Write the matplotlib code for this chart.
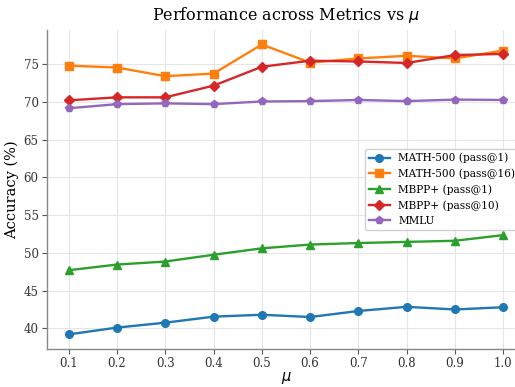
import matplotlib
matplotlib.use("Agg")
import matplotlib.pyplot as plt

# ---------- Datos ----------
mu = [0.1, 0.2, 0.3, 0.4, 0.5, 0.6, 0.7, 0.8, 0.9, 1.0]
math_p1 = [39.2, 40.1, 40.75, 41.55, 41.8, 41.5, 42.3, 42.85, 42.5, 42.8]
math_p16 = [74.8, 74.55, 73.4, 73.75, 77.6, 75.2, 75.75, 76.1, 75.75, 76.8]
mbpp_p1 = [47.7, 48.45, 48.85, 49.75, 50.6, 51.1, 51.3, 51.45, 51.6, 52.35]
mbpp_p10 = [70.2, 70.6, 70.6, 72.15, 74.65, 75.45, 75.35, 75.15, 76.2, 76.35]
mmlu = [69.15, 69.7, 69.8, 69.7, 70.05, 70.1, 70.25, 70.1, 70.3, 70.25]

series = [
    ("MATH-500 (pass@1)", math_p1, "o", "#1f77b4"),
    ("MATH-500 (pass@16)", math_p16, "s", "#ff7f0e"),
    ("MBPP+ (pass@1)", mbpp_p1, "^", "#2ca02c"),
    ("MBPP+ (pass@10)", mbpp_p10, "D", "#d62728"),
    ("MMLU", mmlu, "p", "#9467bd"),
]

plt.rcParams["font.family"] = "DejaVu Serif"

fig = plt.figure(figsize=(5.15, 3.87), dpi=100)
ax = fig.add_axes([0.0913, 0.0985, 0.928, 0.824])

for label, vals, mk, col in series:
    ax.plot(mu, vals, marker=mk, color=col, label=label, linewidth=1.7, markersize=5.5)

ax.set_xticks(mu)
ax.set_xticklabels([f"{v:.1f}" for v in mu])
ax.set_yticks([40, 45, 50, 55, 60, 65, 70, 75])

ax.grid(True, color="#e6e6e6", linewidth=0.8)
ax.set_axisbelow(True)
for s in ["top", "right"]:
    ax.spines[s].set_visible(False)
for s in ["left", "bottom"]:
    ax.spines[s].set_color("#888888")
    ax.spines[s].set_linewidth(1.0)
ax.tick_params(colors="#555555", labelcolor="#333333", labelsize=8.5, length=3.5, pad=2.5)

ax.set_xlabel(r"$\mu$", fontsize=10.5, labelpad=0)
ax.set_ylabel("Accuracy (%)", fontsize=10.5, labelpad=3)
ax.set_title(r"Performance across Metrics vs $\mu$", fontsize=11.5, pad=7)
ax.legend(loc="center right", fontsize=7.6, framealpha=0.9)

fig.savefig("out.png", dpi=100)
